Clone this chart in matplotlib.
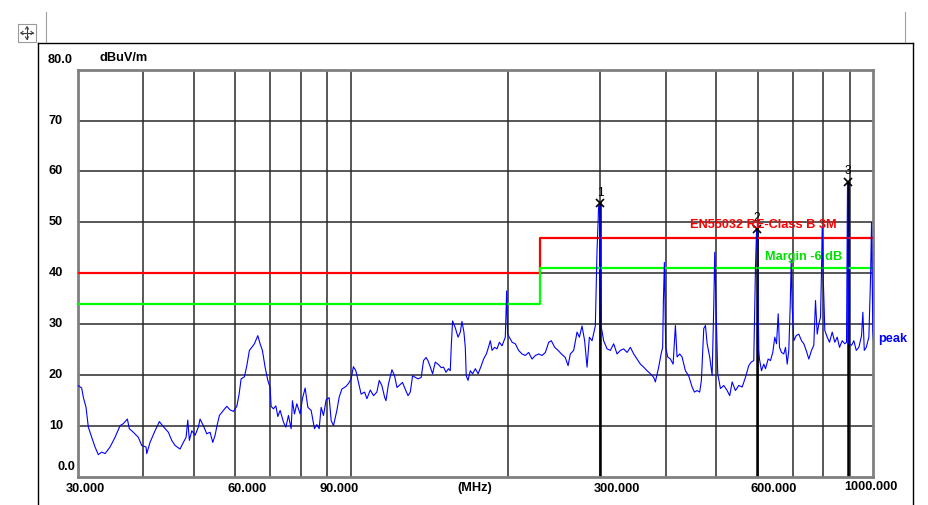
import matplotlib
matplotlib.use("Agg")
import matplotlib.pyplot as plt
from matplotlib.lines import Line2D
from matplotlib.patches import Rectangle
import matplotlib.transforms as mtransforms

# ---------------- data ----------------
freq_mhz = [
    30.0, 30.49, 30.71, 31.08, 31.40, 31.87, 32.34, 32.81, 33.31, 33.80,
    34.55, 35.32, 36.11, 36.64, 37.29, 37.62, 38.29, 39.14, 39.73, 40.49,
    40.62, 41.21, 42.13, 42.94, 43.70, 44.68, 45.35, 46.02, 47.04, 47.73,
    48.31, 48.67, 49.01, 49.54, 50.26, 50.99, 51.38, 52.13, 52.92, 53.70,
    54.34, 54.90, 55.31, 55.95, 56.94, 57.80, 58.65, 59.51, 60.41, 61.03,
    61.57, 62.47, 63.14, 63.86, 64.54, 65.29, 66.27, 66.95, 67.63, 68.44,
    69.26, 69.97, 70.28, 71.00, 71.75, 72.39, 73.13, 74.20, 74.99, 75.86,
    76.76, 77.20, 77.89, 78.71, 79.87, 80.68, 81.65, 82.63, 83.84, 85.07,
    85.98, 86.85, 87.62, 88.52, 89.58, 90.77, 91.58, 92.51, 93.91, 94.86,
    96.00, 97.71, 98.84, 100.0, 101.0, 102.1, 103.6, 104.5, 106.1, 107.2,
    108.8, 110.4, 112.0, 113.2, 114.5, 115.9, 116.6, 117.9, 119.7, 121.1,
    122.4, 124.2, 125.4, 126.9, 128.5, 129.8, 131.1, 132.7, 134.3, 136.2,
    137.6, 139.1, 140.3, 141.7, 143.2, 144.9, 147.0, 148.8, 150.3, 151.9,
    153.6, 154.8, 155.5, 156.4, 158.2, 160.2, 161.8, 163.0, 164.4, 165.4,
    166.1, 167.4, 169.1, 170.8, 172.9, 175.0, 177.5, 179.3, 181.5, 182.8,
    184.7, 186.1, 188.2, 190.2, 192.2, 194.5, 197.3, 198.5, 199.3, 200.8,
    203.3, 206.2, 209.2, 212.4, 215.5, 218.7, 222.0, 225.3, 228.6, 232.0,
    235.4, 238.9, 241.7, 245.3, 249.0, 252.7, 257.0, 260.2, 262.8, 266.7,
    270.7, 273.5, 276.7, 279.9, 282.9, 285.8, 289.2, 293.4, 295.6, 297.7,
    299.4, 301.3, 304.4, 309.0, 313.5, 318.1, 322.9, 327.6, 332.4, 337.5,
    342.4, 347.5, 352.7, 357.9, 363.1, 368.6, 374.0, 379.5, 382.3, 387.9,
    392.1, 394.8, 396.1, 397.8, 400.1, 403.7, 408.5, 413.4, 417.6, 420.7,
    425.6, 430.1, 436.4, 442.8, 449.5, 454.1, 459.5, 464.8, 468.3, 473.2,
    476.7, 480.3, 485.8, 491.0, 494.5, 496.7, 499.7, 503.3, 509.3, 516.8,
    524.6, 530.6, 536.3, 544.1, 552.1, 560.5, 568.7, 577.0, 583.2, 589.9,
    594.4, 597.0, 598.8, 603.1, 604.9, 610.3, 616.5, 621.2, 628.6, 635.0,
    641.5, 647.2, 652.1, 657.0, 660.8, 666.6, 673.4, 678.5, 683.6, 688.4,
    692.7, 695.8, 698.8, 703.8, 711.3, 719.5, 728.1, 735.5, 743.3, 751.9,
    760.9, 768.6, 774.4, 780.3, 785.8, 791.7, 795.2, 797.7, 801.2, 806.9,
    815.5, 823.8, 833.6, 843.2, 852.2, 860.9, 871.2, 881.3, 887.9, 891.8,
    897.0, 907.8, 917.0, 926.8, 937.5, 948.7, 954.2, 960.1, 968.6, 979.8,
    987.1, 991.4, 997.1, 1000.0,
]
peak_dbuv = [
    17.9, 17.4, 15.6, 13.6, 9.7, 7.7, 5.8, 4.3, 4.8, 4.5,
    5.8, 7.7, 10.0, 10.4, 11.3, 9.4, 8.7, 7.7, 6.1, 5.8,
    4.5, 6.7, 9.0, 10.8, 9.8, 8.7, 7.1, 6.1, 5.4, 6.7,
    7.7, 11.1, 7.1, 9.0, 8.1, 9.7, 11.3, 10.0, 8.4, 8.7,
    6.7, 8.1, 9.8, 12.0, 13.0, 13.8, 13.1, 12.8, 13.8, 16.2,
    19.2, 19.6, 21.8, 24.8, 25.4, 26.1, 27.7, 26.1, 24.8, 21.5,
    18.9, 17.5, 13.8, 13.3, 13.9, 11.8, 13.0, 10.7, 9.7, 12.0,
    9.4, 14.9, 12.3, 14.3, 12.3, 15.3, 17.4, 13.6, 13.0, 9.4,
    10.2, 9.4, 13.6, 12.0, 15.1, 15.5, 11.0, 10.0, 13.0, 15.6,
    17.2, 17.7, 18.3, 19.2, 21.6, 20.8, 17.9, 16.2, 16.6, 15.3,
    17.0, 15.9, 16.6, 18.9, 17.9, 15.6, 14.9, 18.2, 21.0, 19.8,
    17.5, 18.1, 18.5, 17.2, 15.9, 16.6, 19.8, 19.5, 19.2, 19.5,
    22.8, 23.4, 22.8, 21.6, 20.2, 22.5, 22.0, 21.4, 21.5, 20.5,
    21.2, 20.8, 25.7, 30.6, 29.3, 27.4, 28.4, 30.5, 28.4, 25.4,
    19.8, 18.9, 20.8, 20.2, 21.2, 20.2, 21.8, 23.1, 24.1, 25.1,
    26.7, 24.8, 25.4, 25.1, 26.4, 25.7, 27.4, 36.5, 28.0, 27.4,
    26.4, 26.1, 24.8, 24.1, 23.8, 24.4, 23.1, 23.8, 24.1, 23.8,
    24.4, 26.4, 26.7, 25.4, 24.8, 24.1, 23.4, 21.8, 24.1, 24.8,
    28.4, 27.4, 29.6, 26.7, 21.5, 27.4, 26.7, 29.6, 44.3, 53.1,
    53.8, 29.3, 26.7, 25.1, 24.8, 26.1, 24.1, 24.8, 25.1, 24.4,
    25.4, 24.1, 23.1, 22.1, 21.5, 20.8, 20.2, 19.5, 18.6, 21.5,
    24.1, 25.4, 34.6, 42.1, 25.4, 23.5, 23.1, 22.1, 29.7, 23.5,
    24.1, 23.5, 20.8, 19.8, 17.6, 16.6, 16.9, 16.6, 18.9, 29.1,
    29.7, 26.1, 23.5, 19.9, 33.3, 44.1, 32.7, 20.2, 17.3, 17.9,
    16.9, 15.9, 18.6, 16.9, 17.9, 17.6, 19.5, 21.8, 22.5, 22.8,
    41.2, 47.8, 48.7, 24.8, 23.1, 20.8, 22.1, 21.2, 23.1, 22.8,
    24.4, 27.4, 26.1, 32.0, 25.4, 24.4, 24.1, 25.4, 22.1, 24.8,
    33.6, 42.5, 33.3, 26.7, 27.7, 28.0, 26.7, 26.1, 24.8, 23.1,
    24.8, 25.8, 34.6, 28.0, 30.0, 31.3, 40.5, 49.1, 39.2, 28.7,
    27.4, 26.4, 28.4, 26.4, 27.4, 25.4, 26.7, 26.1, 26.4, 58.0,
    26.1, 25.8, 26.7, 24.8, 25.4, 27.7, 32.3, 24.8, 25.4, 27.4,
    39.2, 50.0, 28.7, 26.7,
]

limit_freq = [30, 230, 230, 1000]
limit_level = [40, 40, 47, 47]
margin_level = [34, 34, 41, 41]

marker_freq = [299.4, 598.8, 891.8]
marker_level = [53.8, 48.7, 58.0]
marker_labels = ["1", "2", "3"]

grid_freqs = [40, 50, 60, 70, 80, 90, 100, 200, 300, 400, 500, 600, 700, 800, 900]
grid_levels = [10, 20, 30, 40, 50, 60, 70]

xtick_values = [30, 60, 90, 300, 600, 1000]
xtick_labels = ["30.000", "60.000", "90.000", "300.000", "600.000", "1000.000"]
ytick_values = [80, 70, 60, 50, 40, 30, 20, 10, 0]
ytick_labels = ["80.0", "70", "60", "50", "40", "30", "20", "10", "0.0"]

# ---------------- figure ----------------
W, H = 929, 505
DPI = 100
plt.rcParams['font.family'] = ['Liberation Sans', 'DejaVu Sans']
fig = plt.figure(figsize=(W / DPI, H / DPI), dpi=DPI)
fig.patch.set_facecolor('white')


def fx(x):
    return x / W


def fy(y):
    return 1 - y / H


# Word-document chrome around the picture
def fline(xs, ys, color, lw):
    fig.add_artist(Line2D([fx(v) for v in xs], [fy(v) for v in ys],
                          transform=fig.transFigure, color=color, lw=lw))


fline([38, 913], [43, 43], 'black', 1.0)
fline([38, 38], [43, 505], 'black', 1.0)
fline([913, 913], [43, 505], 'black', 1.0)
fline([46, 46], [12, 42], '#a0a0a0', 0.8)
fline([905, 905], [12, 42], '#a0a0a0', 0.8)
fig.add_artist(Rectangle((fx(18), fy(42)), fx(18), 18 / H, transform=fig.transFigure,
                         facecolor='white', edgecolor='#9a9a9a', lw=0.8))
fline([21, 33], [33, 33], '#404040', 0.8)
fline([27, 27], [27, 39], '#404040', 0.8)
for (ax_, ay_, bx_, by_) in [(21, 33, 23, 31.5), (21, 33, 23, 34.5), (33, 33, 31, 31.5), (33, 33, 31, 34.5),
                             (27, 27, 25.5, 29), (27, 27, 28.5, 29), (27, 39, 25.5, 37), (27, 39, 28.5, 37)]:
    fline([ax_, bx_], [ay_, by_], '#404040', 0.8)

left, right, top, bottom = 78, 873.5, 69.7, 476.5
ax = fig.add_axes([fx(left), fy(bottom), (right - left) / W, (bottom - top) / H])
ax.set_xscale('log')
ax.set_xlim(30, 1000)
ax.set_ylim(0, 80)
ax.set_xticks([])
ax.set_yticks([])
ax.minorticks_off()
ax.tick_params(which='both', length=0, labelbottom=False, labelleft=False)
for s in ax.spines.values():
    s.set_color('#808080')
    s.set_linewidth(2.0)

for g in grid_freqs:
    ax.axvline(g, color='#2a2a2a', lw=1.1, zorder=1)
for g in grid_levels:
    ax.axhline(g, color='#2a2a2a', lw=1.1, zorder=1)

# marker drop lines
for f, v in zip(marker_freq, marker_level):
    ax.plot([f, f], [0, v], color='black', lw=1.8, zorder=2)

ax.plot(limit_freq, limit_level, color='#ff0000', lw=1.6, zorder=3)
ax.plot(limit_freq, margin_level, color='#00ff00', lw=1.6, zorder=3)
ax.plot(freq_mhz, peak_dbuv, color='#0000ff', lw=0.8, zorder=4)

ax.plot(marker_freq, marker_level, linestyle='none', marker='x', color='black',
        markersize=6, mew=1.2, zorder=6, clip_on=False)
for f, v, lab in zip(marker_freq, marker_level, marker_labels):
    ax.annotate(lab, (f, v), xytext=(0, 7.5), textcoords='offset points', ha='center',
                va='center', fontsize=8.5, color='black', zorder=6, annotation_clip=False)

bold = dict(fontweight='bold', fontsize=9.2)
axw = right - left
axh = bottom - top

# y tick labels
ylab_tr = mtransforms.blended_transform_factory(ax.transAxes, ax.transData)
for v, lab in zip(ytick_values, ytick_labels):
    if lab == "80.0":
        ax.text((48 - left) / axw, 1 + (top - 60) / axh, lab, transform=ax.transAxes,
                ha='left', va='center', **bold)
    elif lab == "0.0":
        ax.text((75 - left) / axw, (bottom - 466.5) / axh, lab, transform=ax.transAxes,
                ha='right', va='center', **bold)
    else:
        ax.text((49 - left) / axw, v, lab, transform=ylab_tr, ha='left', va='center', **bold)

ax.text((100 - left) / axw, (bottom - 58) / axh, "dBuV/m", transform=ax.transAxes,
        ha='left', va='center', **bold)

# x tick labels
xlab_tr = mtransforms.blended_transform_factory(ax.transData, ax.transAxes)
x_offsets_px = [-12, -8, -8, -7, -7, -3]
for f, lab, dx in zip(xtick_values, xtick_labels, x_offsets_px):
    tr = mtransforms.offset_copy(xlab_tr, fig=fig, x=dx * 72 / DPI, y=0, units='points')
    if lab == "1000.000":
        ax.text(f, (bottom - 486.5) / axh, lab, transform=tr, ha='center', va='center', **bold)
    else:
        ax.text(f, (bottom - 488.5) / axh, lab, transform=tr, ha='left', va='center', **bold)
ax.text((457 - left) / axw, (bottom - 488.5) / axh, "(MHz)", transform=ax.transAxes,
        ha='left', va='center', **bold)

# series labels
ax.text((690 - left) / axw, (bottom - 225) / axh, "EN55032 RE-Class B 3M", transform=ax.transAxes,
        ha='left', va='center', color='#ff0000', zorder=7, **bold)
ax.text((765 - left) / axw, (bottom - 257) / axh, "Margin -6 dB", transform=ax.transAxes,
        ha='left', va='center', color='#00e000', zorder=7, **bold)
ax.text((878 - left) / axw, (bottom - 339.5) / axh, "peak", transform=ax.transAxes,
        ha='left', va='center', color='#0000ff', **bold)

fig.savefig("out.png", dpi=DPI, facecolor='white')
